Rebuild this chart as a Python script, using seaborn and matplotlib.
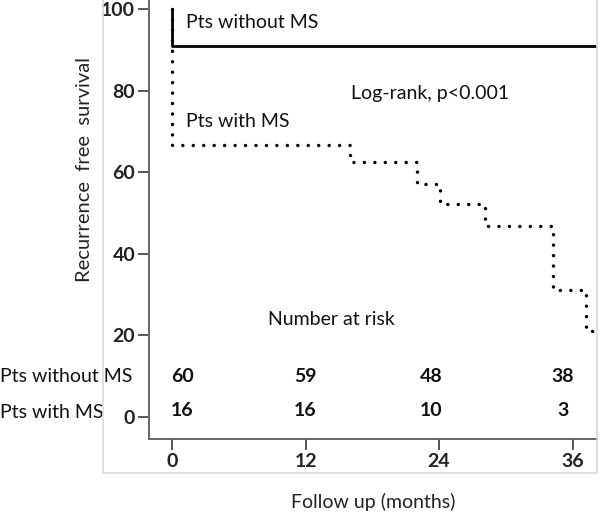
import matplotlib
matplotlib.use("Agg")
import matplotlib.pyplot as plt
import seaborn as sns
import pandas as pd
from matplotlib.lines import Line2D

# ---- data ----
time_without_ms = [0, 0, 38.2]
surv_without_ms = [100, 91, 91]

time_with_ms = [0, 0, 16.0, 22.0, 24.1, 28.1, 34.2, 37.2, 37.9]
surv_with_ms = [100, 66.7, 62.5, 57.2, 52.1, 46.7, 31.2, 21.1, 21.1]

risk_times = [0, 12, 24, 36]
risk_without_ms = [60, 59, 48, 38]
risk_with_ms = [16, 16, 10, 3]
risk_label_x = [0.9, 12.0, 23.3, 35.1]

x_ticks = [0, 12, 24, 36]
y_ticks = [0, 20, 40, 60, 80, 100]

sns.set_style("ticks")
plt.rcParams['font.family'] = ['Lato', 'DejaVu Sans']

fig = plt.figure(figsize=(6.0, 5.14), dpi=100)
W, H = 600, 514
ax = fig.add_axes([149 / W, (H - 439) / H, (597 - 149) / W, 439 / H])

df1 = pd.DataFrame({"t": time_without_ms, "s": surv_without_ms})
df2 = pd.DataFrame({"t": time_with_ms, "s": surv_with_ms})

sns.lineplot(data=df1, x="t", y="s", ax=ax, estimator=None, sort=False,
             drawstyle="steps-post", color="black", linewidth=2.0)
sns.lineplot(data=df2, x="t", y="s", ax=ax, estimator=None, sort=False,
             drawstyle="steps-post", color="black", linewidth=2.5,
             linestyle=(0, (0.01, 3.0)), dash_capstyle="round")

ax.set_xlim(-2.07, 38.2)
ax.set_ylim(-5.4, 102.2)
ax.set_xticks(x_ticks)
ax.set_yticks(y_ticks)
ax.set_xticklabels([str(v) for v in x_ticks], fontsize=14, fontweight="bold", color="#222222")
ax.set_yticklabels([str(v) for v in y_ticks], fontsize=14, fontweight="bold", color="#222222")
ax.tick_params(axis="both", direction="out", length=8, width=1.4, color="#555555", pad=2)
ax.tick_params(axis="x", pad=2)

for s in ["top", "right"]:
    ax.spines[s].set_visible(False)
for s in ["left", "bottom"]:
    ax.spines[s].set_color("#666666")
    ax.spines[s].set_linewidth(1.4)

ax.set_xlabel("")
ax.set_ylabel("")
fig.text(85 / W, 1 - 170 / H, "Recurrence  free  survival", rotation=90,
         ha="center", va="center", fontsize=14.5, color="#222222")
fig.text(373 / W, 1 - 502 / H, "Follow up (months)", ha="center", va="center",
         fontsize=14, color="#222222")

# annotations
fs = 14
ax.text(1.26, 96.8, "Pts without MS", ha="left", va="center", fontsize=fs, color="#111111")
ax.text(1.26, 72.3, "Pts with MS", ha="left", va="center", fontsize=fs, color="#111111")
ax.text(16.1, 79.4, "Log-rank, p<0.001", ha="left", va="center", fontsize=fs, color="#111111")
ax.text(8.6, 23.8, "Number at risk", ha="left", va="center", fontsize=fs, color="#111111")

# number at risk rows
ytr = ax.get_yaxis_transform()
ax.text(-0.333, 10.0, "Pts without MS", transform=ytr, ha="left", va="center",
        fontsize=fs, color="#111111")
ax.text(-0.333, 1.0, "Pts with MS", transform=ytr, ha="left", va="center",
        fontsize=fs, color="#111111")
for xp, a, b in zip(risk_label_x, risk_without_ms, risk_with_ms):
    ax.text(xp, 10.0, str(a), ha="center", va="center", fontsize=fs,
            fontweight="bold", color="#111111")
    ax.text(xp, 1.5, str(b), ha="center", va="center", fontsize=fs,
            fontweight="bold", color="#111111")

# light outer frame
frame_kw = dict(color="#d9d9d9", linewidth=1.2, transform=fig.transFigure)
fig.add_artist(Line2D([103 / W, 103 / W], [1 - 473 / H, 1.0], **frame_kw))
fig.add_artist(Line2D([103 / W, 597 / W], [1 - 473 / H, 1 - 473 / H], **frame_kw))
fig.add_artist(Line2D([597 / W, 597 / W], [1 - 473 / H, 1.0], **frame_kw))

fig.savefig("out.png", dpi=100)
